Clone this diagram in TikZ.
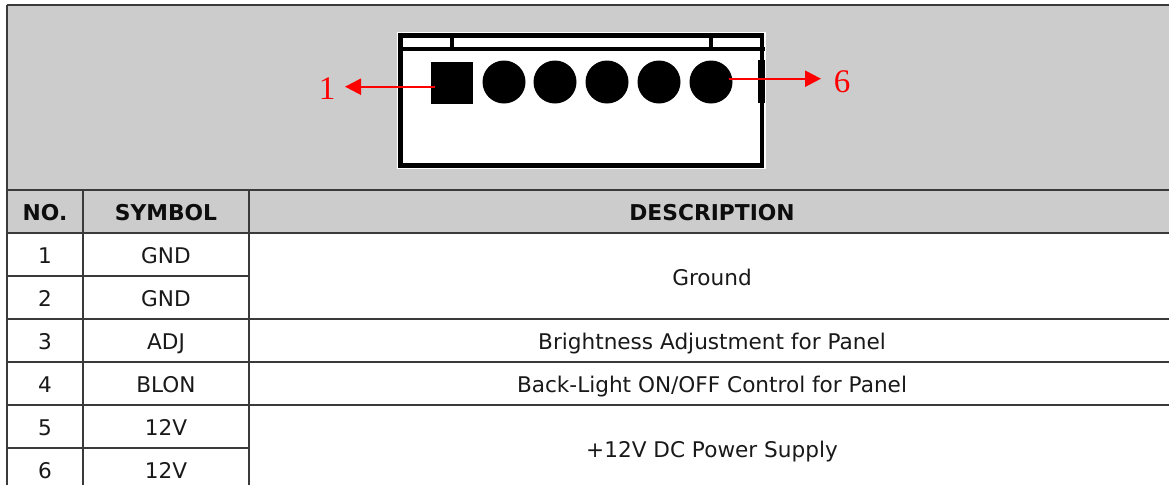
\documentclass[tikz,border=0pt]{standalone}
\usepackage{fontspec}
\usepackage{xcolor}
\usetikzlibrary{arrows.meta}
\setmainfont{DejaVu Sans}
\newfontfamily\serifnum{Liberation Serif}
\definecolor{panelgray}{HTML}{CCCCCC}
\definecolor{gridgray}{HTML}{3A3A3A}
\tikzset{
  cell/.style={font=\fontsize{21.6}{24}\selectfont, text=black!90, inner sep=0pt, anchor=base},
  headcell/.style={font=\fontsize{21.8}{24}\selectfont\bfseries, text=black!95, inner sep=0pt, anchor=base},
  pinlabel/.style={font=\fontsize{33}{36}\selectfont\serifnum, text=red, inner sep=0pt},
  roundpin/.style={circle, fill=black, minimum size=43pt, inner sep=0pt},
  squarepin/.style={rectangle, fill=black, minimum size=42.5pt, inner sep=0pt},
  pinarrow/.style={red, line width=2.3pt, -{Triangle[length=16pt,width=16pt]}},
  gridline/.style={gridgray, line width=1.3pt},
  wall/.style={black, line width=5pt}
}
\begin{document}
\begin{tikzpicture}[x=1pt,y=-1pt]
\useasboundingbox (0,0) rectangle (1169,485);
% gray panel and header band
\fill[white] (0,0) rectangle (1169,485);
\fill[panelgray] (7,5) rectangle (1169,233);
% connector body
\fill[white] (397,32) rectangle (766,169);
\draw[wall] (400.5,35.5) -- (762.5,35.5);
\draw[wall] (400.5,165.5) -- (762.5,165.5);
\draw[wall] (400.5,33) -- (400.5,168);
\draw[black, line width=4pt] (762,33) -- (762,168);
\draw[black, line width=4.5pt] (400.5,49) -- (765,49);
\draw[black, line width=4pt] (452,36) -- (452,49);
\draw[black, line width=4pt] (711,36) -- (711,49);
\fill[black] (758,60) rectangle (765,103);
% pins
\node[squarepin] (pinone) at (451.8,82.8) {};
\node[roundpin] (pintwo) at (504,82) {};
\node[roundpin] (pinthree) at (555,82) {};
\node[roundpin] (pinfour) at (607,82) {};
\node[roundpin] (pinfive) at (659,82) {};
\node[roundpin] (pinsix) at (711,82) {};
\node[pinlabel] (labelone) at (327,89) {1};
\node[pinlabel] (labelsix) at (842,81.5) {6};
\coordinate (startone) at (435,86.7);
\coordinate (tipone) at (345,86.7);
\coordinate (startsix) at (729,78.7);
\coordinate (tipsix) at (821,78.7);
\draw[pinarrow] (startone) -- (tipone);
\draw[pinarrow] (startsix) -- (tipsix);
% table lines
\draw[gridline] (7,5) -- (1169,5);
\draw[gridline] (7,5) -- (7,485);
\draw[gridline] (7,190) -- (1169,190);
\draw[gridline] (7,233) -- (1169,233);
\draw[gridline] (7,276) -- (249,276);
\draw[gridline] (7,319) -- (1169,319);
\draw[gridline] (7,362) -- (1169,362);
\draw[gridline] (7,405) -- (1169,405);
\draw[gridline] (7,448) -- (249,448);
\draw[gridline] (83,190) -- (83,485);
\draw[gridline] (249,190) -- (249,485);
% table text
\node[headcell] (headno) at (45,220) {NO.};
\node[headcell] (headsymbol) at (166,220) {SYMBOL};
\node[headcell] (headdesc) at (712,220) {DESCRIPTION};
\node[cell] (noone) at (45,263) {1};
\node[cell] (notwo) at (45,306) {2};
\node[cell] (nothree) at (45,349) {3};
\node[cell] (nofour) at (45,392) {4};
\node[cell] (nofive) at (45,435) {5};
\node[cell] (nosix) at (45,478) {6};
\node[cell] (symone) at (166,263) {GND};
\node[cell] (symtwo) at (166,306) {GND};
\node[cell] (symthree) at (166,349) {ADJ};
\node[cell] (symfour) at (166,392) {BLON};
\node[cell] (symfive) at (166,435) {12V};
\node[cell] (symsix) at (166,478) {12V};
\node[cell] (descground) at (712,285) {Ground};
\node[cell] (descadj) at (712,349) {Brightness Adjustment for Panel};
\node[cell] (descblon) at (712,392) {Back-Light ON/OFF Control for Panel};
\node[cell] (descpower) at (712,457) {+12V DC Power Supply};
\end{tikzpicture}
\end{document}
